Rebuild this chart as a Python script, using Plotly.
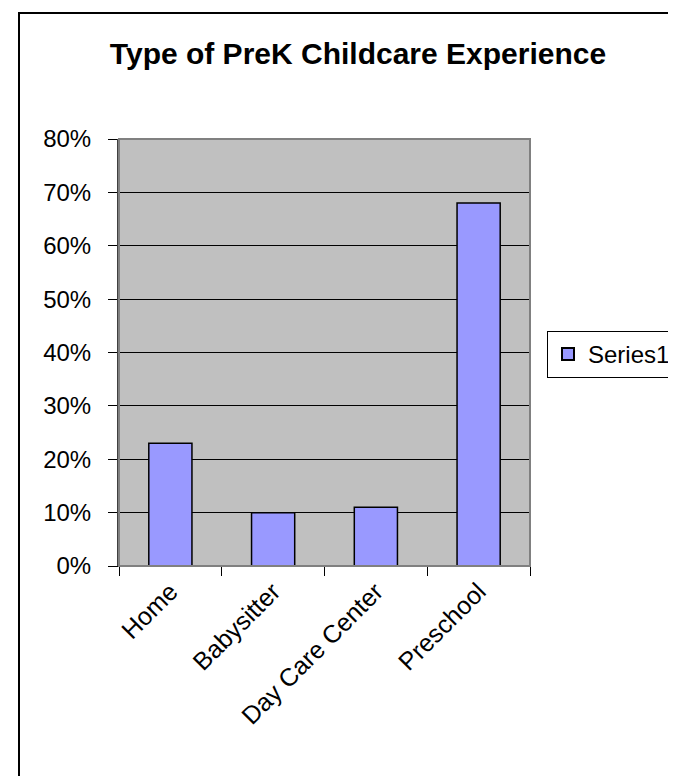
import plotly.graph_objects as go

categories = ["Home", "Babysitter", "Day Care Center", "Preschool"]
values = [0.23, 0.10, 0.11, 0.68]
series_name = "Series1"
title_text = "Type of PreK Childcare Experience"

W, H = 676, 776
L, R, T, B = 111, 522, 131, 558

def px_x(px):
    return (px - L) / (R - L)

def px_y(py):
    return (B - py) / (B - T)

FONT = "Arial, Liberation Sans, sans-serif"

fig = go.Figure()
fig.add_trace(go.Bar(
    x=categories, y=values, name=series_name,
    marker=dict(color="#9999ff", line=dict(color="#000000", width=1.5)),
    showlegend=True,
))

fig.update_layout(
    width=W, height=H,
    margin=dict(l=L, r=W - R, t=T, b=H - B, autoexpand=False),
    paper_bgcolor="white",
    plot_bgcolor="#c0c0c0",
    bargap=0.58,
    font=dict(family=FONT, color="black"),
    title=dict(text="<b>" + title_text + "</b>", x=350 / W, xanchor="center",
               y=1 - 45 / H, yanchor="middle", yref="container",
               font=dict(size=30, family=FONT, color="black")),
    showlegend=True,
    legend=dict(x=px_x(539), y=px_y(323), xanchor="left", yanchor="top",
                bgcolor="white", bordercolor="black", borderwidth=1,
                font=dict(size=24, family=FONT, color="black"),
                itemsizing="constant"),
    xaxis=dict(
        type="category", showgrid=False, showline=True, linecolor="black", linewidth=1,
        ticks="outside", ticklen=9, tickcolor="black", tickson="boundaries",
        tickangle=-45, tickfont=dict(size=25, family=FONT, color="black"),
        zeroline=False, fixedrange=True,
    ),
    yaxis=dict(
        range=[0, 0.8], dtick=0.1, tickformat=".0%", showgrid=True,
        gridcolor="black", gridwidth=1, showline=True, linecolor="#404040", linewidth=2,
        ticks="outside", ticklen=9, tickcolor="black",
        tickfont=dict(size=24, family=FONT, color="black"),
        zeroline=False, ticklabelstandoff=12,
    ),
    shapes=[
        dict(type="rect", xref="paper", yref="paper", x0=0, x1=1, y0=0, y1=1,
             line=dict(color="#808080", width=2), fillcolor="rgba(0,0,0,0)", layer="above"),
        dict(type="rect", xref="paper", yref="paper",
             x0=px_x(11), x1=px_x(700), y0=px_y(800), y1=px_y(5),
             line=dict(color="black", width=2), fillcolor="rgba(0,0,0,0)"),
    ],
)

fig.write_html("out.html")
